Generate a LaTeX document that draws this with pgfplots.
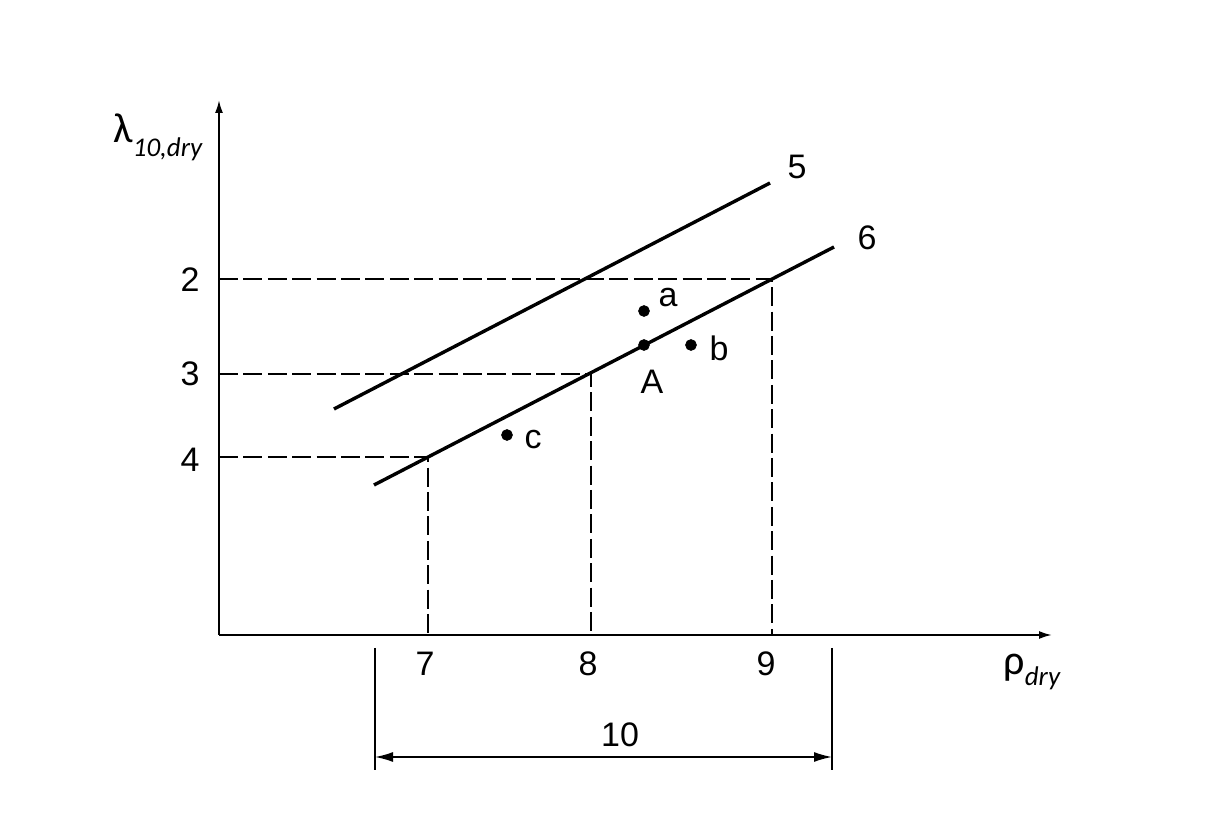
\documentclass[border=0pt]{standalone}
\usepackage{pgfplots}
\pgfplotsset{compat=1.18}
\usetikzlibrary{arrows.meta}
\usepackage{fontspec}
\setmainfont{Liberation Sans}
\newfontfamily\carlito{Carlito}
\tikzset{lbl/.style={font=\fontsize{17}{20}\selectfont}}
\begin{document}
\begin{tikzpicture}
\begin{axis}[
  x=0.5pt, y=0.5pt,
  xmin=0, xmax=833, ymin=0, ymax=535,
  axis lines=left,
  axis line style={line width=1pt, -{Latex[length=6.5pt,width=4pt]}},
  xtick=\empty, ytick=\empty,
  clip=false,
]
% bounding area of the whole picture
\path (axis cs:-219,-204) rectangle (axis cs:989,635);
% lines 5 and 6
\addplot[black, line width=1.7pt] coordinates {(115,226) (551,452)};
\addplot[black, line width=1.7pt] coordinates {(155,150) (615,388)};
% dashed guides
\addplot[black, line width=0.85pt, dash pattern=on 9.5pt off 2.7pt] coordinates {(0,356) (553,356) (553,0)};
\addplot[black, line width=0.85pt, dash pattern=on 9.5pt off 2.7pt] coordinates {(0,261) (372,261) (372,0)};
\addplot[black, line width=0.85pt, dash pattern=on 9.5pt off 2.7pt] coordinates {(0,178) (209,178) (209,0)};
% points
\addplot[only marks, mark=*, mark size=2.7pt, black] coordinates {(425,324) (425,290) (472,290) (288,200)};
% dimension
\addplot[black, line width=0.8pt] coordinates {(156,-13) (156,-135)};
\addplot[black, line width=0.8pt] coordinates {(613,-13) (613,-135)};
\addplot[black, line width=0.8pt, {Latex[length=9pt,width=5pt]}-{Latex[length=9pt,width=5pt]}] coordinates {(156,-122) (613,-122)};
% labels
\node[lbl] at (axis cs:449,337) {a};
\node[lbl] at (axis cs:500,287) {b};
\node[lbl] at (axis cs:433,253) {A};
\node[lbl] at (axis cs:314,195) {c};
\node[lbl] at (axis cs:578,468) {5};
\node[lbl] at (axis cs:648,397) {6};
\node[lbl] at (axis cs:-29,355) {2};
\node[lbl] at (axis cs:-29,261) {3};
\node[lbl] at (axis cs:-29,175) {4};
\node[lbl] at (axis cs:206,-29) {7};
\node[lbl] at (axis cs:369,-29) {8};
\node[lbl] at (axis cs:547,-29) {9};
\node[lbl] at (axis cs:401,-100) {10};
\node[anchor=base west, inner sep=0pt] at (axis cs:-106,492) {\carlito\fontsize{21}{21}\selectfont λ\raisebox{-0.32em}{\fontsize{13.5}{13.5}\selectfont\itshape 10,dry}};
\node[anchor=base west, inner sep=0pt] at (axis cs:784,-40) {\carlito\fontsize{21}{21}\selectfont ρ\raisebox{-0.25em}{\fontsize{13.5}{13.5}\selectfont\itshape dry}};
\end{axis}
\end{tikzpicture}
\end{document}
